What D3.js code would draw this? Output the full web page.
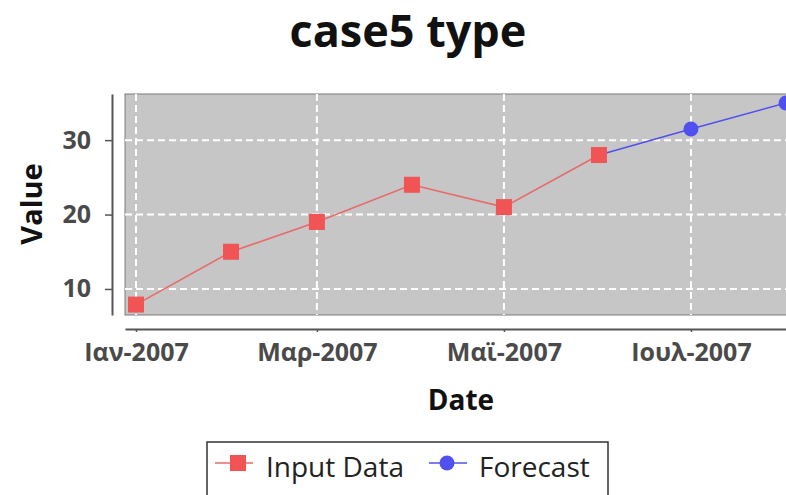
<!DOCTYPE html>
<html>
<head>
<meta charset="utf-8">
<script src="https://cdn.jsdelivr.net/npm/d3@7"></script>
<style>
  html, body { margin: 0; padding: 0; background: #fff; }
  svg { display: block; }
</style>
</head>
<body>
<svg id="chart" width="786" height="495"></svg>
<script>
// Observed monthly values
const inputDates = ["2007-01-01", "2007-02-01", "2007-03-01", "2007-04-01", "2007-05-01", "2007-06-01"];
const inputValues = [7.9, 15, 19, 24, 21, 28];

// Forecast continues from the last observed month
const forecastDates = ["2007-06-01", "2007-07-01", "2007-08-01"];
const forecastValues = [28, 31.5, 35];

const xTickDates = ["2007-01-01", "2007-03-01", "2007-05-01", "2007-07-01"];
const xTickLabels = ["Ιαν-2007", "Μαρ-2007", "Μαϊ-2007", "Ιουλ-2007"];
const yTickValues = [10, 20, 30];

const parse = d3.utcParse("%Y-%m-%d");
const input = inputDates.map((d, i) => ({ date: parse(d), value: inputValues[i] }));
const forecast = forecastDates.map((d, i) => ({ date: parse(d), value: forecastValues[i] }));

const plot = { left: 125, right: 797, top: 94, bottom: 315 };
const red = "#f05454", redLine = "#e86a6a", blue = "#5050f0";

const svg = d3.select("#chart");

const x = d3.scaleUtc()
  .domain([new Date(Date.UTC(2006, 11, 28, 10)), new Date(Date.UTC(2007, 7, 4, 14))])
  .range([plot.left, plot.right]);
const y = d3.scaleLinear().domain([6.5, 36.2]).range([plot.bottom, plot.top]);

// Title
svg.append("text")
  .attr("x", 408).attr("y", 47)
  .attr("text-anchor", "middle")
  .attr("font-family", "Open Sans").attr("font-weight", "bold")
  .attr("font-size", 45).attr("fill", "#111")
  .text("case5 type");

// Plot background
svg.append("rect")
  .attr("x", plot.left).attr("y", plot.top)
  .attr("width", plot.right - plot.left).attr("height", plot.bottom - plot.top)
  .attr("fill", "#c6c6c6").attr("stroke", "#7a7a7a").attr("stroke-width", 1);

svg.append("clipPath").attr("id", "plotclip")
  .append("rect")
  .attr("x", plot.left).attr("y", plot.top)
  .attr("width", plot.right - plot.left).attr("height", plot.bottom - plot.top);

const grid = svg.append("g").attr("stroke", "#ffffff").attr("stroke-width", 2)
  .attr("stroke-dasharray", "7,4");
grid.selectAll("line.h").data(yTickValues).join("line").attr("class", "h")
  .attr("x1", plot.left).attr("x2", plot.right)
  .attr("y1", d => y(d)).attr("y2", d => y(d));
grid.selectAll("line.v").data(xTickDates).join("line").attr("class", "v")
  .attr("x1", d => x(parse(d))).attr("x2", d => x(parse(d)))
  .attr("y1", plot.top).attr("y2", plot.bottom);

const tickFont = sel => sel.attr("font-family", "Open Sans").attr("font-weight", "bold")
  .attr("font-size", 25).attr("fill", "#4a4a4a");

// Y axis (offset to the left of the plot)
const yAxis = d3.axisLeft(y).tickValues(yTickValues).tickSize(7).tickPadding(14).tickSizeOuter(0);
const gy = svg.append("g").attr("transform", `translate(112,0)`).call(yAxis);
gy.select(".domain").attr("stroke", "#555").attr("stroke-width", 2);
gy.selectAll(".tick line").attr("stroke", "#555").attr("stroke-width", 1.5);
gy.selectAll(".tick text").call(tickFont);

// X axis (offset below the plot)
const xAxis = d3.axisBottom(x)
  .tickValues(xTickDates.map(parse))
  .tickFormat((d, i) => xTickLabels[i])
  .tickSize(3).tickPadding(11).tickSizeOuter(0);
const gx = svg.append("g").attr("transform", `translate(0,329)`).call(xAxis);
gx.select(".domain").attr("stroke", "#555").attr("stroke-width", 2);
gx.selectAll(".tick line").attr("stroke", "#555").attr("stroke-width", 1.5);
gx.selectAll(".tick text").call(tickFont);

// Axis titles
svg.append("text")
  .attr("transform", "translate(42,204) rotate(-90)")
  .attr("text-anchor", "middle")
  .attr("font-family", "Open Sans").attr("font-weight", "bold")
  .attr("font-size", 29).attr("fill", "#111")
  .text("Value");
svg.append("text")
  .attr("x", 461).attr("y", 410)
  .attr("text-anchor", "middle")
  .attr("font-family", "Open Sans").attr("font-weight", "bold")
  .attr("font-size", 28).attr("fill", "#111")
  .text("Date");

// Series
const line = d3.line().x(d => x(d.date)).y(d => y(d.value));
const marks = svg.append("g").attr("clip-path", "url(#plotclip)");

marks.append("path").datum(forecast)
  .attr("d", line).attr("fill", "none").attr("stroke", blue).attr("stroke-width", 1.6);
marks.selectAll("circle.fc").data(forecast.slice(1)).join("circle").attr("class", "fc")
  .attr("cx", d => x(d.date)).attr("cy", d => y(d.value)).attr("r", 7.5).attr("fill", blue);

marks.append("path").datum(input)
  .attr("d", line).attr("fill", "none").attr("stroke", redLine).attr("stroke-width", 1.6);
marks.selectAll("rect.in").data(input).join("rect").attr("class", "in")
  .attr("x", d => x(d.date) - 8).attr("y", d => y(d.value) - 8)
  .attr("width", 16).attr("height", 16).attr("fill", red);

// Legend
const lg = svg.append("g");
lg.append("rect").attr("x", 207).attr("y", 442).attr("width", 401).attr("height", 70)
  .attr("fill", "#fff").attr("stroke", "#333").attr("stroke-width", 1.5);
lg.append("line").attr("x1", 215).attr("x2", 253).attr("y1", 463).attr("y2", 463)
  .attr("stroke", redLine).attr("stroke-width", 1.6);
lg.append("rect").attr("x", 230).attr("y", 455).attr("width", 16).attr("height", 16).attr("fill", red);
lg.append("text").attr("x", 266).attr("y", 477)
  .attr("font-family", "Open Sans").attr("font-size", 28).attr("fill", "#222").text("Input Data");
lg.append("line").attr("x1", 429).attr("x2", 467).attr("y1", 463).attr("y2", 463)
  .attr("stroke", blue).attr("stroke-width", 1.6);
lg.append("circle").attr("cx", 447).attr("cy", 463).attr("r", 7.5).attr("fill", blue);
lg.append("text").attr("x", 479).attr("y", 477)
  .attr("font-family", "Open Sans").attr("font-size", 28).attr("fill", "#222").text("Forecast");
</script>
</body>
</html>
